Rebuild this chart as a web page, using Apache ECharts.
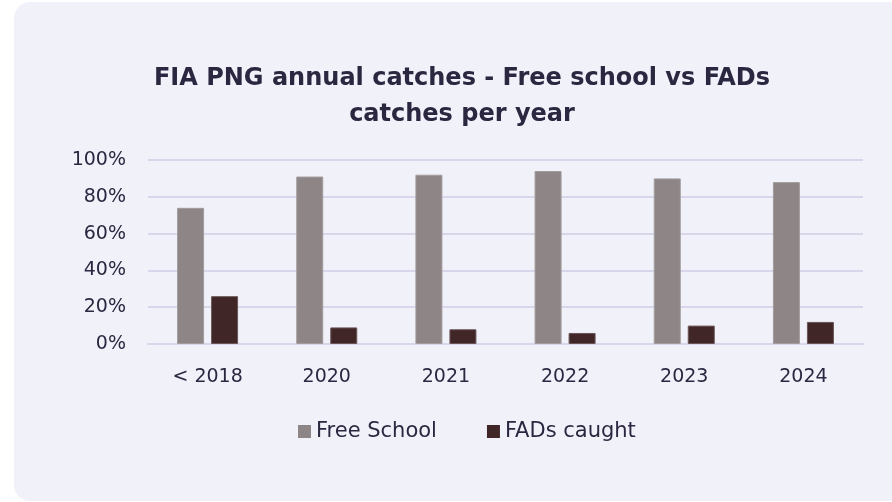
<!DOCTYPE html>
<html>
<head>
<meta charset="utf-8">
<script src="https://cdn.jsdelivr.net/npm/echarts@6/dist/echarts.min.js"></script>
<style>
  html, body { margin: 0; padding: 0; background: #ffffff; }
  #main { width: 892px; height: 502px; }
</style>
</head>
<body>
<div id="main"></div>
<script>
var categories = ["< 2018", "2020", "2021", "2022", "2023", "2024"];
var freeSchool = [74, 91, 92, 94, 90, 88];
var fadsCaught = [26, 9, 8, 6, 10, 12];
var yTicks = [0, 20, 40, 60, 80, 100];

var textColor = "#2b2740";
var font = "DejaVu Sans";

var myChart = echarts.init(document.getElementById("main"));
myChart.setOption({
  backgroundColor: "#ffffff",
  graphic: [
    {
      type: "rect",
      z: -10,
      shape: { x: 14, y: 2, width: 900, height: 499, r: 16 },
      style: { fill: "#f1f1fa" }
    }
  ],
  title: {
    text: "FIA PNG annual catches - Free school vs FADs\ncatches per year",
    left: 457,
    top: 56,
    textAlign: "center",
    textStyle: {
      fontFamily: font,
      fontWeight: "bold",
      fontSize: 24,
      lineHeight: 36,
      color: textColor
    }
  },
  legend: {
    data: ["Free School", "FADs caught"],
    left: 293,
    top: 416,
    icon: "rect",
    itemWidth: 13,
    itemHeight: 13,
    itemGap: 50,
    itemStyle: { borderWidth: 0 },
    textStyle: { fontFamily: font, fontSize: 21, color: textColor }
  },
  grid: { left: 148, right: 29, top: 160, bottom: 158 },
  xAxis: {
    type: "category",
    data: categories,
    axisLine: { show: true, lineStyle: { color: "#d9d5ea", width: 2 } },
    axisTick: { show: false },
    axisLabel: { fontFamily: font, fontSize: 19, color: textColor, margin: 24 }
  },
  yAxis: {
    type: "value",
    min: 0,
    max: 100,
    interval: 20,
    axisLine: { show: false },
    axisTick: { show: false },
    splitLine: { lineStyle: { color: "#d9d5ea", width: 2 } },
    axisLabel: {
      fontFamily: font,
      fontSize: 19,
      color: textColor,
      margin: 22,
      formatter: function (v) { return yTicks.indexOf(v) >= 0 ? v + "%" : ""; }
    }
  },
  series: [
    {
      name: "Free School",
      type: "bar",
      data: freeSchool,
      barWidth: 27,
      barGap: "26%",
      itemStyle: { color: "#8e8686", borderColor: "#a29c9c", borderWidth: 1 }
    },
    {
      name: "FADs caught",
      type: "bar",
      data: fadsCaught,
      barWidth: 27,
      itemStyle: { color: "#412627", borderColor: "#6a5556", borderWidth: 1 }
    }
  ]
});
</script>
</body>
</html>
